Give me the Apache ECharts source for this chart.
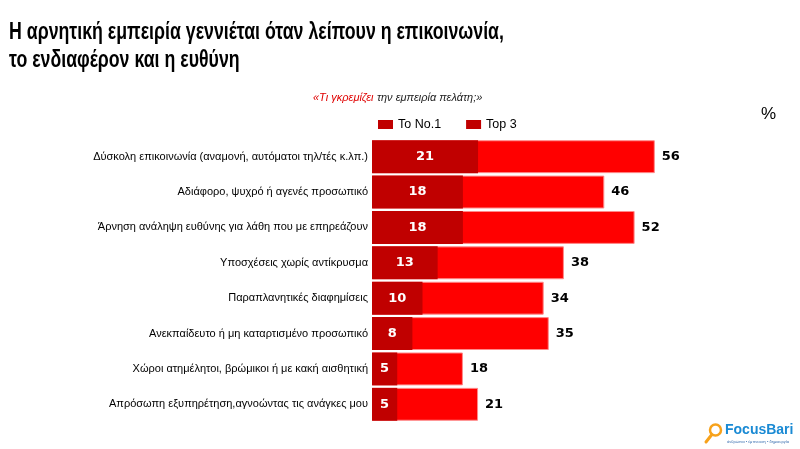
<!DOCTYPE html>
<html>
<head>
<meta charset="utf-8">
<script src="https://cdn.jsdelivr.net/npm/echarts@6/dist/echarts.min.js"></script>
<style>
  html, body { margin: 0; padding: 0; background: #fff; }
  #chart { width: 800px; height: 449px; }
</style>
</head>
<body>
<div id="chart"></div>
<script>
const categories = [
  'Δύσκολη επικοινωνία (αναμονή, αυτόματοι τηλ/τές κ.λπ.)',
  'Αδιάφορο, ψυχρό ή αγενές προσωπικό',
  'Άρνηση ανάληψη ευθύνης για λάθη που με επηρεάζουν',
  'Υποσχέσεις χωρίς αντίκρυσμα',
  'Παραπλανητικές διαφημίσεις',
  'Ανεκπαίδευτο ή μη καταρτισμένο προσωπικό',
  'Χώροι ατημέλητοι, βρώμικοι ή με κακή αισθητική',
  'Απρόσωπη εξυπηρέτηση,αγνοώντας τις ανάγκες μου'
]
const no1Values = [21, 18, 18, 13, 10, 8, 5, 5]
const top3Values = [56, 46, 52, 38, 34, 35, 18, 21]

const darkRed = '#c00000'
const brightRed = '#ff0000'

const chart = echarts.init(document.getElementById('chart'))

chart.setOption({
  backgroundColor: '#fff',
  animation: false,
  textStyle: { fontFamily: 'Liberation Sans, Arial, sans-serif' },
  legend: {
    data: [
      { name: 'To No.1' },
      { name: 'Top 3', itemStyle: { color: darkRed, borderWidth: 0 } }
    ],
    left: 373,
    top: 113,
    itemWidth: 15,
    itemHeight: 9,
    itemGap: 25,
    icon: 'rect',
    textStyle: { fontSize: 12.5, color: '#000', padding: [0, 0, 0, 0] }
  },
  grid: { left: 372, top: 139, width: 404, height: 283 },
  xAxis: {
    type: 'value',
    min: 0,
    max: 80,
    show: false
  },
  yAxis: {
    type: 'category',
    data: categories,
    inverse: true,
    axisLine: { show: false },
    axisTick: { show: false },
    axisLabel: { margin: 4, fontSize: 11, color: '#000' }
  },
  series: [
    {
      name: 'Top 3',
      type: 'bar',
      data: top3Values,
      barCategoryGap: '7%',
      itemStyle: { color: brightRed, borderColor: '#ff8a8a', borderWidth: 1 },
      label: {
        show: true,
        position: 'right',
        distance: 7,
        fontFamily: 'DejaVu Sans',
        fontWeight: 'bold',
        fontSize: 13,
        color: '#000'
      }
    },
    {
      name: 'To No.1',
      type: 'bar',
      data: no1Values,
      barGap: '-100%',
      barCategoryGap: '7%',
      itemStyle: { color: darkRed },
      label: {
        show: true,
        position: 'inside',
        fontFamily: 'DejaVu Sans',
        fontWeight: 'bold',
        fontSize: 13,
        color: '#fff'
      }
    }
  ],
  graphic: [
    {
      type: 'text',
      x: 9,
      y: 19,
      scaleX: 0.755,
      style: {
        text: 'Η αρνητική εμπειρία γεννιέται όταν λείπουν η επικοινωνία,\nτο ενδιαφέρον και η ευθύνη',
        fontFamily: 'Liberation Sans',
        fontWeight: 'bold',
        fontSize: 23.5,
        lineHeight: 28,
        fill: '#000'
      }
    },
    {
      type: 'text',
      left: 313,
      top: 92,
      style: {
        text: '{r|«Τι γκρεμίζει} {b|την εμπειρία πελάτη;»}',
        rich: {
          r: { fill: '#e00000', fontSize: 11, fontStyle: 'italic', fontFamily: 'Liberation Sans' },
          b: { fill: '#222', fontSize: 11, fontStyle: 'italic', fontFamily: 'Liberation Sans' }
        }
      }
    },
    {
      type: 'text',
      left: 761,
      top: 106,
      style: { text: '%', fontSize: 17, fill: '#000', fontFamily: 'Liberation Sans' }
    },
    {
      type: 'circle',
      shape: { cx: 715.5, cy: 430, r: 5.5 },
      style: { fill: 'none', stroke: '#f7a21b', lineWidth: 2.5 }
    },
    {
      type: 'line',
      shape: { x1: 711.5, y1: 435, x2: 706, y2: 442 },
      style: { stroke: '#f7a21b', lineWidth: 3, lineCap: 'round' }
    },
    {
      type: 'text',
      left: 725,
      top: 423,
      style: { text: 'FocusBari', fontSize: 14, fontWeight: 'bold', fill: '#1a8ad4', fontFamily: 'Liberation Sans' }
    },
    {
      type: 'text',
      left: 727,
      top: 440,
      style: { text: 'άνθρωποι • έμπνευση • δημιουργία', fontSize: 4, fill: '#3a6fb0', fontFamily: 'Liberation Sans' }
    }
  ]
})
</script>
</body>
</html>
